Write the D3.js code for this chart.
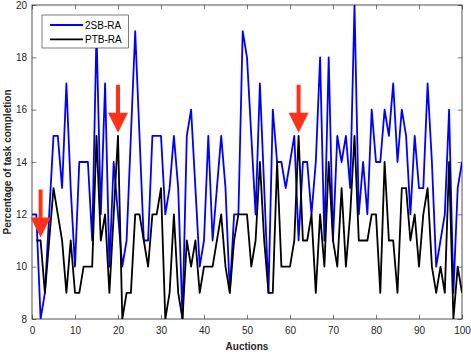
<!DOCTYPE html>
<html>
<head>
<meta charset="utf-8">
<script src="https://cdn.jsdelivr.net/npm/d3@7"></script>
<style>
	body { margin: 0; background: #fff; }
	text { font-family: "Liberation Sans", Arial, sans-serif; }
</style>
</head>
<body>
<div id="vis"></div>
<script>

// percentage of task completion per auction (2SB-RA starts at auction 0)
var sbValues = [12, 12, 8, 9, 12, 15, 15, 13, 17, 13, 10,
	14, 14, 14, 11, 19, 12, 17, 10, 14, 12,
	10, 11, 15, 19, 15, 11, 11, 15, 15, 15,
	12, 13, 15, 13, 8, 15, 16, 13, 10, 11,
	15, 11, 13, 15, 13, 9, 12, 12, 19, 18,
	15, 12, 17, 13, 9, 16, 14, 14, 13, 14,
	15, 11, 14, 14, 12, 14, 18, 11, 18, 11,
	15, 14, 15, 13, 20, 12, 14, 12, 16, 14,
	14, 16, 15, 17, 14, 16, 15, 12, 15, 13,
	13, 17, 14, 10, 11, 12, 16, 9, 13, 14];

// PTB-RA starts at auction 1
var ptbValues = [11, 11, 9, 11, 13, 12, 11, 9, 11, 9,
	9, 10, 10, 10, 15, 11, 12, 9, 12, 15,
	8, 9, 9, 12, 12, 11, 10, 12, 12, 13,
	8, 9, 12, 9, 8, 11, 10, 11, 9, 10,
	10, 10, 11, 12, 10, 9, 11, 12, 12, 12,
	10, 11, 14, 11, 9, 9, 14, 10, 10, 10,
	11, 15, 11, 11, 12, 9, 12, 10, 14, 11,
	10, 13, 10, 12, 15, 11, 11, 11, 12, 12,
	9, 14, 11, 11, 9, 13, 13, 11, 12, 10,
	12, 13, 10, 9, 10, 9, 14, 8, 10, 9];

var seriesNames = ['2SB-RA', 'PTB-RA'];
var seriesColors = ['#0000ff', '#000000'];

var xTicks = [0, 10, 20, 30, 40, 50, 60, 70, 80, 90, 100];
var yTicks = [8, 10, 12, 14, 16, 18, 20];

// highlighted auctions (red arrows) and the value they point at
var arrowAuctions = [2, 20, 62];
var arrowValues = [11, 15, 15];

var width = 471;
var height = 354;
var axisColor = '#262626';

var x = d3.scaleLinear().domain([0, 100]).range([32, 462]);
var y = d3.scaleLinear().domain([8, 20]).range([319, 5]);

var sbData = sbValues.map((v, i) => ({ a: i, v: v }));
var ptbData = ptbValues.map((v, i) => ({ a: i + 1, v: v }));

var svg = d3.select('#vis')
	.append('svg')
	.attr('width', width)
	.attr('height', height);

svg.append('defs').append('clipPath')
	.attr('id', 'plotclip')
	.append('rect')
	.attr('x', x(0))
	.attr('y', y(20))
	.attr('width', x(100) - x(0))
	.attr('height', y(8) - y(20));

// axes, ticks pointing inwards on all four sides
function styleAxis(g) {
	g.selectAll('.domain').remove();
	g.selectAll('line').attr('stroke', axisColor).attr('stroke-width', 0.6);
	g.selectAll('text')
		.attr('fill', axisColor)
		.style('font-size', '10px');
}

svg.append('g')
	.attr('transform', 'translate(0,' + y(8) + ')')
	.call(d3.axisBottom(x).tickValues(xTicks).tickSizeInner(-4.3).tickSizeOuter(0).tickPadding(8))
	.call(styleAxis);

svg.append('g')
	.attr('transform', 'translate(0,' + y(20) + ')')
	.call(d3.axisTop(x).tickValues(xTicks).tickSizeInner(-4.3).tickSizeOuter(0).tickFormat(''))
	.call(styleAxis);

svg.append('g')
	.attr('transform', 'translate(' + x(0) + ',0)')
	.call(d3.axisLeft(y).tickValues(yTicks).tickSizeInner(-4.3).tickSizeOuter(0).tickPadding(5))
	.call(styleAxis);

svg.append('g')
	.attr('transform', 'translate(' + x(100) + ',0)')
	.call(d3.axisRight(y).tickValues(yTicks).tickSizeInner(-4.3).tickSizeOuter(0).tickFormat(''))
	.call(styleAxis);

svg.append('rect')
	.attr('x', x(0))
	.attr('y', y(20))
	.attr('width', x(100) - x(0))
	.attr('height', y(8) - y(20))
	.attr('fill', 'none')
	.attr('stroke', axisColor)
	.attr('stroke-width', 0.8);

// series lines
var line = d3.line()
	.x(d => x(d.a))
	.y(d => y(d.v));

var plot = svg.append('g').attr('clip-path', 'url(#plotclip)');

[sbData, ptbData].forEach(function (data, i) {
	plot.append('path')
		.datum(data)
		.attr('d', line)
		.attr('fill', 'none')
		.attr('stroke', seriesColors[i])
		.attr('stroke-width', 1.8)
		.attr('stroke-linejoin', 'round');
});

// red arrows pointing at the PTB-RA peaks
var arrowColor = '#ff3219';
arrowAuctions.forEach(function (a, i) {
	var cx = x(a);
	var tip = y(arrowValues[i]) - 3;
	var headTop = tip - 20;
	var top = tip - 48;
	svg.append('path')
		.attr('d', 'M' + (cx - 2) + ',' + top + 'H' + (cx + 2) + 'V' + headTop +
			'H' + (cx + 10) + 'L' + cx + ',' + tip + 'L' + (cx - 10) + ',' + headTop +
			'H' + (cx - 2) + 'Z')
		.attr('fill', arrowColor);
});

// axis titles
svg.append('text')
	.attr('x', (x(0) + x(100)) / 2)
	.attr('y', 350)
	.attr('text-anchor', 'middle')
	.style('font-size', '10px')
	.style('font-weight', 'bold')
	.attr('fill', axisColor)
	.text('Auctions');

svg.append('text')
	.attr('transform', 'translate(11,' + ((y(8) + y(20)) / 2) + ') rotate(-90)')
	.attr('text-anchor', 'middle')
	.style('font-size', '10px')
	.style('font-weight', 'bold')
	.attr('fill', axisColor)
	.text('Percentage of task completion');

// legend
var legend = svg.append('g');

legend.append('rect')
	.attr('x', 42)
	.attr('y', 15)
	.attr('width', 86.5)
	.attr('height', 33)
	.attr('fill', '#fff')
	.attr('stroke', axisColor)
	.attr('stroke-width', 0.6);

seriesNames.forEach(function (name, i) {
	var ly = 25 + i * 14.3;
	legend.append('line')
		.attr('x1', 50)
		.attr('x2', 83)
		.attr('y1', ly)
		.attr('y2', ly)
		.attr('stroke', seriesColors[i])
		.attr('stroke-width', 1.8);
	legend.append('text')
		.attr('x', 85)
		.attr('y', ly)
		.attr('dy', '0.35em')
		.style('font-size', '10px')
		.attr('fill', '#000')
		.text(name);
});

</script>
</body>
</html>
